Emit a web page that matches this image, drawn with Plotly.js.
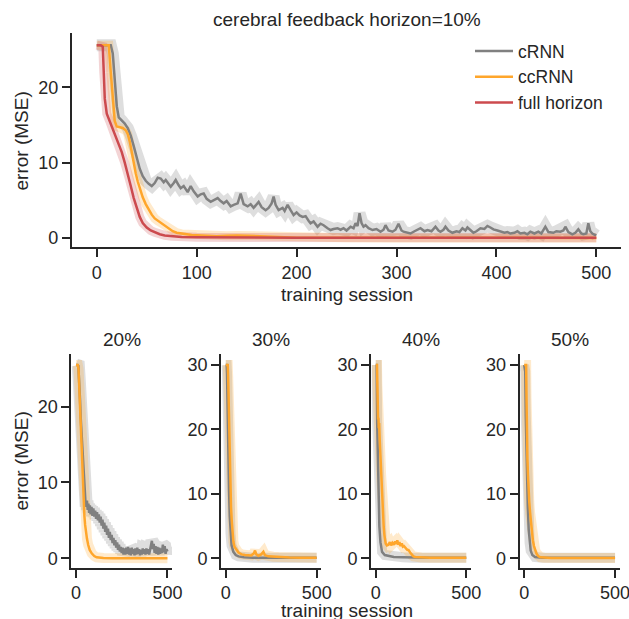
<!DOCTYPE html>
<html>
<head>
<meta charset="utf-8">
<script src="https://cdn.plot.ly/plotly-3.0.1.min.js"></script>
<style>html,body{margin:0;padding:0;background:#fff;overflow:hidden;}#chart{width:650px;height:619px;}</style>
</head>
<body>
<div id="chart"></div>
<script>
// ---------- DATA ----------
// Top panel: cerebral feedback horizon = 10%
var crnn10_x = [0,5,10,14,16,18,20,22,25,28,31,34,37,40,43,46,49,52,55,58,61,64,67,69,72,74,77,79,82,84,87,91,94,97,101,104,107,110,114,117,121,124,127,130,134,137,141,144,147,151,154,157,160,162,165,169,172,175,177,179,182,186,188,191,194,197,200,203,206,209,212,214,217,221,224,227,231,234,237,241,244,247,250,254,257,259,261,263,265,267,269,272,276,280,284,287,289,292,296,299,302,305,307,311,314,318,321,324,328,331,335,339,342,344,347,349,352,356,360,363,366,369,371,374,377,380,384,388,391,394,397,401,404,408,411,414,418,421,424,428,431,434,438,442,445,449,452,457,460,464,467,469,472,476,479,482,485,487,490,492,494,496,499,500];
var crnn10_y = [25.6,25.6,25.6,25.6,24.5,20.5,17.5,16.0,15.6,15.2,14.6,13.6,12.2,10.8,9.2,8.2,7.6,7.2,6.9,7.3,8.0,7.9,7.4,7.7,7.2,6.8,7.3,7.7,7.0,6.6,6.9,6.1,6.9,6.2,5.5,5.8,5.9,5.2,4.8,5.0,5.3,4.9,4.6,4.9,4.2,4.4,4.6,5.9,4.5,4.2,4.5,4.0,4.4,4.8,4.1,3.7,4.0,4.6,5.5,4.4,3.7,4.0,3.6,4.4,3.7,3.05,3.4,3.0,2.8,2.9,2.3,1.96,2.2,1.5,1.9,1.7,1.3,1.06,1.2,1.3,1.1,1.3,1.0,1.5,1.3,1.96,1.6,3.3,2.0,1.5,1.7,1.3,1.06,1.2,0.84,1.1,1.7,1.0,0.84,1.1,1.9,1.0,0.84,0.7,0.6,0.9,1.1,1.3,0.9,1.06,0.9,1.5,1.0,0.84,1.1,1.5,1.0,0.7,0.9,0.8,1.3,1.0,1.4,1.0,0.7,0.9,1.3,1.2,1.6,1.4,1.15,1.0,0.84,0.7,0.8,0.6,0.7,0.9,0.6,0.7,0.5,0.84,0.6,0.84,0.6,1.5,0.8,0.7,0.9,0.84,1.0,1.5,0.8,0.5,0.7,1.15,0.6,0.5,0.6,1.95,0.9,0.6,0.4,0.35];
var ccrnn10_x = [0,5,10,12,14,16,18,20,23,26,29,31,33,35,37,39,41,43,46,49,52,55,58,61,64,67,70,73,76,80,85,90,95,100,110,120,130,140,150,160,170,180,200,250,300,400,500];
var ccrnn10_y = [25.6,25.6,25.6,25.6,22.0,18.0,15.5,14.8,14.7,14.6,14.3,13.8,12.8,11.3,10.0,8.6,7.5,6.6,5.4,4.5,3.7,3.1,2.6,2.3,2.0,1.7,1.4,1.1,0.9,0.7,0.55,0.5,0.4,0.35,0.3,0.25,0.3,0.35,0.3,0.25,0.2,0.12,0.05,0.03,0.02,0.02,0.02];
var full_x = [0,4,6,7,8,10,13,16,19,22,25,28,31,34,37,40,43,46,50,54,58,63,68,75,85,100,150,200,300,400,500];
var full_y = [25.6,25.6,25.4,22.0,18.5,16.5,15.5,14.5,13.5,12.4,11.4,10.0,8.6,6.9,5.3,3.9,2.8,2.0,1.4,1.0,0.75,0.5,0.35,0.25,0.15,0.1,0.06,0.05,0.04,0.03,0.03];

// Bottom panels: 20%, 30%, 40%, 50%
var crnn20_x = [0,8,13,18,22,26,29,32,36,40,44,48,52,56,60,64,68,72,76,80,85,90,95,100,105,110,115,120,125,130,135,140,145,150,155,160,165,170,175,180,185,190,195,200,205,210,215,220,225,230,235,240,245,250,255,260,265,270,275,280,285,290,295,300,305,310,315,320,325,330,335,340,345,350,355,360,365,370,375,380,385,390,395,400,405,410,415,420,425,430,435,440,445,450,455,460,465,470,475,480,485,490,495,500];
var crnn20_y = [25.5,25.5,25.4,23.5,21.0,18.5,17.0,16.0,14.0,12.0,10.0,8.3,
  7.4,6.8,7.6,6.4,7.2,6.0,7.0,5.8,6.8,5.6,
  6.6,5.5,6.3,5.2,6.1,5.0,5.8,4.7,5.5,4.3,
  5.1,3.9,4.7,3.5,4.3,3.1,3.9,2.7,3.5,2.4,
  3.1,2.0,2.7,1.7,2.4,1.4,2.1,1.1,1.8,0.9,
  1.5,0.7,1.4,0.5,1.3,0.5,1.4,0.6,1.5,0.5,
  1.3,0.4,1.4,0.6,1.2,0.4,1.3,0.5,1.4,0.6,
  1.2,0.4,1.1,0.5,1.3,0.6,1.2,0.5,1.3,0.6,
  1.2,0.5,1.3,1.9,2.3,1.2,1.9,0.7,1.6,0.6,
  1.5,0.5,1.4,0.6,1.3,0.7,1.8,0.8,1.6,0.6,
  1.2,0.9];
var ccrnn20_x = [0,10,14,18,22,26,30,34,38,42,46,50,55,60,67,75,86,100,113,150,200,300,400,500];
var ccrnn20_y = [25.5,25.5,25.0,22.2,19.8,17.6,15.4,13.0,10.5,7.8,5.6,4.4,3.3,2.6,1.75,1.1,0.66,0.3,0.13,0.03,0.01,0.01,0.01,0.01];

var crnn30_x = [0,5,7,9,11,14,18,22,26,32,42,55,70,100,150,250,350,500];
var crnn30_y = [30.0,30.0,28.7,24.0,18.4,14.0,10.6,6.5,3.9,2.0,1.0,0.5,0.3,0.15,0.1,0.08,0.08,0.08];
var ccrnn30_x = [0,6,11,13,15,18,21,24,29,33,37,42,48,58,70,88,106,140,155,161,168,180,195,207,215,234,260,289,350,420,500];
var ccrnn30_y = [30.0,30.0,30.0,28.5,26.1,18.4,15.5,13.2,8.0,5.8,3.9,2.6,1.8,1.3,0.9,0.6,0.5,0.45,0.8,1.2,0.6,0.4,0.6,1.0,0.5,0.3,0.25,0.2,0.12,0.1,0.1];

var crnn40_x = [0,5,8,12,16,20,26,35,50,80,100,150,200,300,400,500];
var crnn40_y = [30.0,30.0,21.0,15.0,9.0,5.0,2.5,1.0,0.5,0.3,0.2,0.15,0.1,0.08,0.08,0.08];
var ccrnn40_x = [0,4,7,9,11,13,15,17,19,22,26,30,33,37,41,44,48,55,62,70,78,85,92,100,107,113,119,125,131,137,144,150,156,162,168,175,181,190,199,208,218,250,300,400,500];
var ccrnn40_y = [30.0,30.0,30.0,27.0,23.0,21.5,21.8,20.2,21.0,18.4,15.6,12.8,10.6,8.0,6.2,4.9,3.6,2.3,2.0,2.1,2.5,2.0,2.4,2.1,2.6,2.2,2.8,2.1,2.5,1.9,2.3,1.8,1.9,1.6,1.5,1.3,1.3,0.9,0.5,0.3,0.2,0.12,0.1,0.1,0.1];

var crnn50_x = [0,6,9,12,16,20,25,30,36,45,60,100,200,300,400,500];
var crnn50_y = [30.0,29.0,22.0,17.0,12.0,8.0,4.5,2.4,1.2,0.5,0.2,0.1,0.08,0.08,0.08,0.08];
var ccrnn50_x = [0,6,11,13,15,18,21,24,28,33,38,42,48,54,60,67,73,79,90,110,150,200,300,400,500];
var ccrnn50_y = [30.0,30.0,30.0,25.0,18.4,15.5,13.0,10.6,8.8,7.0,5.2,3.9,2.8,1.9,1.3,0.8,0.5,0.3,0.15,0.08,0.05,0.05,0.05,0.05,0.05];

var legendNames = ['cRNN', 'ccRNN', 'full horizon'];
var topTitle = 'cerebral feedback horizon=10%';
var panelTitles = ['20%', '30%', '40%', '50%'];
var xTitle = 'training session';
var yTitle = 'error (MSE)';
var topXTicks = [0, 100, 200, 300, 400, 500];
var topYTicks = [0, 10, 20];
var smallXTicks = [0, 500];
var smallYTicks20 = [0, 10, 20];
var smallYTicks = [0, 10, 20, 30];

// ---------- STYLE ----------
// canvas is a bit wider than the 629px window so the last "500" label is clipped by the window, as in the reference
var W = 650, H = 619;
var C_GRAY = '#808080', C_ORANGE = '#FFA62B', C_RED = '#CC4A4E';
var B_GRAY = 'rgba(128,128,128,0.26)', B_ORANGE = 'rgba(255,166,43,0.24)', B_RED = 'rgba(204,74,78,0.24)';
var INK = '#262626';
var FONT = 'Liberation Sans, Arial, sans-serif';
var TICKFS = 18, LABFS = 19, TITLEFS = 19;

function px2x(p) { return p / W; }
function px2y(p) { return 1 - p / H; }

var traces = [];
function band(x, y, color, xa, ya, w) {
  traces.push({x: x, y: y, type: 'scatter', mode: 'lines', xaxis: xa, yaxis: ya,
    line: {color: color, width: w}, showlegend: false, hoverinfo: 'skip'});
}
function line(x, y, color, xa, ya, name, show) {
  traces.push({x: x, y: y, type: 'scatter', mode: 'lines', xaxis: xa, yaxis: ya, name: name,
    line: {color: color, width: 2.5}, showlegend: !!show});
}

// top panel
band(crnn10_x, crnn10_y, B_GRAY, 'x', 'y', 12);
band(ccrnn10_x, ccrnn10_y, B_ORANGE, 'x', 'y', 9);
band(full_x, full_y, B_RED, 'x', 'y', 9);
line(crnn10_x, crnn10_y, C_GRAY, 'x', 'y', legendNames[0], true);
line(ccrnn10_x, ccrnn10_y, C_ORANGE, 'x', 'y', legendNames[1], true);
line(full_x, full_y, C_RED, 'x', 'y', legendNames[2], true);

// bottom panels
var bottom = [
  [crnn20_x, crnn20_y, ccrnn20_x, ccrnn20_y],
  [crnn30_x, crnn30_y, ccrnn30_x, ccrnn30_y],
  [crnn40_x, crnn40_y, ccrnn40_x, ccrnn40_y],
  [crnn50_x, crnn50_y, ccrnn50_x, ccrnn50_y]
];
bottom.forEach(function (d, i) {
  var xa = 'x' + (i + 2), ya = 'y' + (i + 2);
  band(d[0], d[1], B_GRAY, xa, ya, i === 0 ? 13 : 10);
  band(d[2], d[3], B_ORANGE, xa, ya, 10);
  line(d[0], d[1], C_GRAY, xa, ya, legendNames[0], false);
  line(d[2], d[3], C_ORANGE, xa, ya, legendNames[1], false);
});

function axisBase(extra) {
  var a = {showgrid: false, zeroline: false, showline: true, linecolor: INK, linewidth: 2,
    ticks: 'outside', ticklen: 8, tickwidth: 2, tickcolor: INK,
    tickfont: {family: FONT, size: TICKFS, color: INK}, fixedrange: true};
  for (var k in extra) a[k] = extra[k];
  return a;
}

var bx = [[71.4, 172.0], [221.2, 321.2], [371.2, 470.8], [519.6, 619.6]];
var layout = {
  width: W, height: H, margin: {l: 0, r: 0, t: 0, b: 0},
  paper_bgcolor: '#fff', plot_bgcolor: '#fff',
  font: {family: FONT, color: INK},
  showlegend: true,
  legend: {x: px2x(470), y: px2y(33), xanchor: 'left', yanchor: 'top',
    font: {family: FONT, size: 17.5, color: INK}, bgcolor: 'rgba(0,0,0,0)', itemwidth: 38,
    tracegroupgap: 0},
  xaxis: axisBase({domain: [px2x(71.8), px2x(621.3)], range: [-25, 525], tickvals: topXTicks, anchor: 'y'}),
  yaxis: axisBase({domain: [px2y(247.3), px2y(33.3)], range: [-1.23, 27.17], tickvals: topYTicks, anchor: 'x'}),
  annotations: []
};
for (var i = 0; i < 4; i++) {
  var n = i + 2;
  layout['xaxis' + n] = axisBase({domain: [px2x(bx[i][0]), px2x(bx[i][1])], range: [-25, 525],
    tickvals: smallXTicks, anchor: 'y' + n});
  layout['yaxis' + n] = axisBase({domain: [px2y(567.7), px2y(354)],
    range: i === 0 ? [-1.24, 26.95] : [-1.46, 31.71],
    tickvals: i === 0 ? smallYTicks20 : smallYTicks, anchor: 'x' + n});
  layout.annotations.push({text: panelTitles[i], xref: 'paper', yref: 'paper',
    x: px2x((bx[i][0] + bx[i][1]) / 2), y: px2y(339), xanchor: 'center', yanchor: 'middle',
    showarrow: false, font: {family: FONT, size: TITLEFS, color: INK}});
}
layout.annotations.push({text: topTitle, xref: 'paper', yref: 'paper', x: px2x(346.5), y: px2y(20),
  xanchor: 'center', yanchor: 'middle', showarrow: false, font: {family: FONT, size: TITLEFS, color: INK}});
layout.annotations.push({text: xTitle, xref: 'paper', yref: 'paper', x: px2x(346.5), y: px2y(294),
  xanchor: 'center', yanchor: 'middle', showarrow: false, font: {family: FONT, size: LABFS, color: INK}});
layout.annotations.push({text: xTitle, xref: 'paper', yref: 'paper', x: px2x(346.5), y: px2y(610.5),
  xanchor: 'center', yanchor: 'middle', showarrow: false, font: {family: FONT, size: LABFS, color: INK}});
layout.annotations.push({text: yTitle, xref: 'paper', yref: 'paper', x: px2x(21), y: px2y(141.5),
  xanchor: 'center', yanchor: 'middle', textangle: -90, showarrow: false, font: {family: FONT, size: LABFS, color: INK}});
layout.annotations.push({text: yTitle, xref: 'paper', yref: 'paper', x: px2x(21), y: px2y(461.5),
  xanchor: 'center', yanchor: 'middle', textangle: -90, showarrow: false, font: {family: FONT, size: LABFS, color: INK}});

Plotly.newPlot('chart', traces, layout, {staticPlot: true, displayModeBar: false});
</script>
</body>
</html>
